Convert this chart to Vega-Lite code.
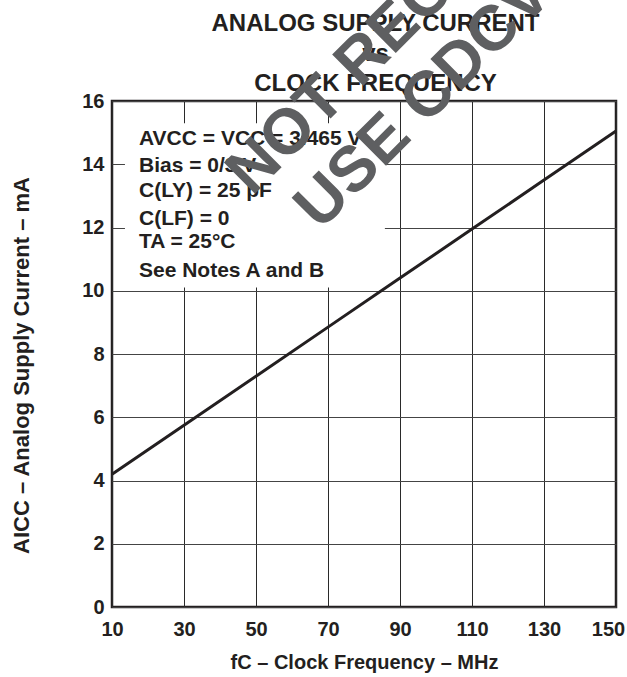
{
  "$schema": "https://vega.github.io/schema/vega-lite/v6.json",
  "width": 504,
  "height": 506,
  "autosize": {"type": "none"},
  "padding": {"left": 112, "top": 101, "right": 11, "bottom": 70},
  "background": "white",
  "config": {
    "font": "Liberation Sans",
    "view": {"stroke": "#231f20", "strokeWidth": 2.5}
  },
  "datasets": {
    "curve": [
      {"x": 10, "y": 4.2},
      {"x": 30, "y": 5.75},
      {"x": 50, "y": 7.3},
      {"x": 70, "y": 8.85},
      {"x": 90, "y": 10.4},
      {"x": 110, "y": 11.95},
      {"x": 130, "y": 13.5},
      {"x": 150, "y": 15.05}
    ],
    "box": [{"x": 13.6, "x2": 85.8, "y": 10.1, "y2": 15.3}],
    "notes": [
      {"x": 17.5, "y": 14.62, "t": "AVCC = VCC = 3.465 V"},
      {"x": 17.5, "y": 13.77, "t": "Bias = 0/3 V"},
      {"x": 17.5, "y": 12.97, "t": "C(LY) = 25 pF"},
      {"x": 17.5, "y": 12.09, "t": "C(LF) = 0"},
      {"x": 17.5, "y": 11.36, "t": "TA = 25°C"},
      {"x": 17.5, "y": 10.44, "t": "See Notes A and  B"}
    ],
    "wm": [
      {"x": 48.9, "y": 12.97, "t": "NOT RECOMMENDED FOR NEW DESIGN"},
      {"x": 67.8, "y": 11.87, "t": "USE CDCVF2510A"}
    ]
  },
  "encoding": {
    "y": {
      "field": "y",
      "type": "quantitative",
      "scale": {"domain": [0, 16], "nice": false, "zero": false},
      "axis": {
        "title": "AICC – Analog Supply Current – mA",
        "values": [0, 2, 4, 6, 8, 10, 12, 14, 16],
        "grid": true,
        "gridColor": "#444444",
        "gridWidth": 1,
        "domain": false,
        "ticks": false,
        "labelOverlap": false,
        "labelFont": "Liberation Sans",
        "labelFontSize": 20,
        "labelFontWeight": "bold",
        "labelColor": "#231f20",
        "labelPadding": 8,
        "titleFont": "Liberation Sans",
        "titleFontSize": 22,
        "titleFontWeight": "bold",
        "titleColor": "#231f20",
        "titleAngle": -90,
        "titleX": -84,
        "titleY": 264,
        "titleAlign": "center",
        "titleBaseline": "alphabetic"
      }
    }
  },
  "resolve": {"axis": {"x": "independent"}},
  "layer": [
    {
      "data": {"name": "box"},
      "mark": {"type": "rect", "fill": "white", "stroke": null},
      "encoding": {
        "x": {
          "field": "x",
          "type": "quantitative",
          "scale": {"domain": [10, 150], "nice": false, "zero": false},
          "axis": {
            "title": "fC – Clock Frequency – MHz",
            "values": [10, 30, 50, 70, 90, 110, 130, 150],
            "grid": true,
            "gridColor": "#2a2a2a",
            "gridWidth": 1,
            "domain": false,
            "ticks": false,
            "labelFlush": false,
            "labelOverlap": false,
            "labelFont": "Liberation Sans",
            "labelFontSize": 20,
            "labelFontWeight": "bold",
            "labelColor": "#231f20",
            "labelPadding": 12,
            "labelOffset": {"condition": {"test": "datum.value == 150", "value": -8}, "value": 0},
            "titleFont": "Liberation Sans",
            "titleFontSize": 20,
            "titleFontWeight": "bold",
            "titleColor": "#231f20",
            "titleX": 252,
            "titleY": 61,
            "titleAlign": "center",
            "titleBaseline": "alphabetic"
          }
        },
        "x2": {"field": "x2"},
        "y2": {"field": "y2"}
      }
    },
    {
      "data": {"name": "curve"},
      "mark": {"type": "line", "color": "#231f20", "strokeWidth": 3},
      "encoding": {
        "x": {"field": "x", "type": "quantitative", "scale": {"domain": [10, 150], "nice": false, "zero": false}, "axis": null}
      }
    },
    {
      "data": {"name": "notes"},
      "mark": {"type": "text", "align": "left", "baseline": "alphabetic", "font": "Liberation Sans", "fontSize": 21, "fontWeight": "bold", "color": "#231f20"},
      "encoding": {
        "x": {"field": "x", "type": "quantitative", "scale": {"domain": [10, 150], "nice": false, "zero": false}, "axis": null},
        "text": {"field": "t"}
      }
    },
    {
      "data": {"name": "wm"},
      "mark": {"type": "text", "align": "left", "baseline": "alphabetic", "angle": -45, "font": "Liberation Sans", "fontSize": 64, "fontWeight": "bold", "color": "#5e5f61"},
      "encoding": {
        "x": {
          "field": "x",
          "type": "quantitative",
          "scale": {"domain": [10, 150], "nice": false, "zero": false},
          "axis": {
            "orient": "top",
            "title": ["ANALOG SUPPLY CURRENT", "vs", "CLOCK FREQUENCY"],
            "labels": false,
            "ticks": false,
            "domain": false,
            "grid": false,
            "titleFont": "Liberation Sans",
            "titleFontSize": 24,
            "titleFontWeight": "bold",
            "titleColor": "#231f20",
            "titleLineHeight": 30,
            "titleX": 263,
            "titleY": -90,
            "titleAlign": "center",
            "titleBaseline": "top",
            "titleAngle": 0
          }
        },
        "text": {"field": "t"}
      }
    }
  ]
}
